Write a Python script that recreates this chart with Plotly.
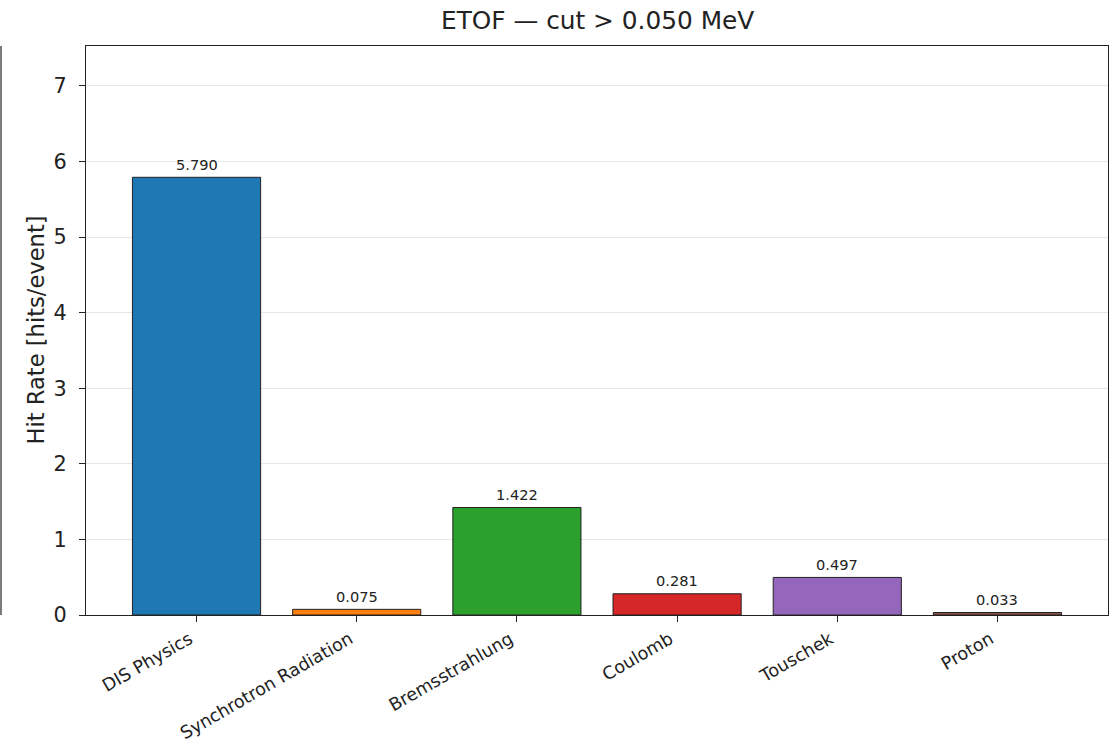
import plotly.graph_objects as go

categories = ["DIS Physics", "Synchrotron Radiation", "Bremsstrahlung", "Coulomb", "Touschek", "Proton"]
values = [5.790, 0.075, 1.422, 0.281, 0.497, 0.033]
colors = ["#1f77b4", "#ff7f0e", "#2ca02c", "#d62728", "#9467bd", "#8c564b"]
y_ticks = [0, 1, 2, 3, 4, 5, 6, 7]

FONT = "DejaVu Sans"
W, H = 1112, 743
L, R, T, B = 86, 4, 46, 128
PW = W - L - R
PH = H - T - B

fig = go.Figure()
fig.add_trace(go.Bar(
    x=list(range(len(categories))),
    y=values,
    width=0.8,
    marker=dict(color=colors, line=dict(color="#222222", width=1)),
    showlegend=False,
    hoverinfo="skip",
))

for i, v in enumerate(values):
    fig.add_annotation(x=i, y=v, text=f"{v:.3f}", showarrow=False,
                       yanchor="middle", yshift=13,
                       font=dict(family=FONT, size=14.6, color="#222222"))

# y-axis title
fig.add_annotation(xref="paper", yref="paper", x=(35 - L) / PW, y=0.5,
                   text="Hit Rate [hits/event]", textangle=-90, showarrow=False,
                   xanchor="center", yanchor="middle",
                   font=dict(family=FONT, size=22.6, color="#222222"))
# title
fig.add_annotation(xref="paper", yref="paper", x=0.5, y=1 + (T - 21) / PH,
                   text="ETOF — cut > 0.050 MeV", showarrow=False,
                   xanchor="center", yanchor="middle",
                   font=dict(family=FONT, size=24.8, color="#222222"))

fig.update_layout(
    width=W, height=H,
    margin=dict(l=L, r=R, t=T, b=B, autoexpand=False),
    paper_bgcolor="white", plot_bgcolor="white",
    font=dict(family=FONT, color="#222222"),
    bargap=0.2,
)

fig.update_xaxes(
    range=[-0.69, 5.69], automargin=False,
    tickmode="array", tickvals=list(range(len(categories))), ticktext=categories,
    tickangle=-30, tickfont=dict(family=FONT, size=17.6, color="#222222"),
    ticks="outside", ticklen=6, tickcolor="#222222", tickwidth=1.2,
    ticklabelshift=-7,
    showline=True, linecolor="#222222", linewidth=1.2, mirror=True,
    showgrid=False, zeroline=False,
)
fig.update_yaxes(
    range=[0, 7.527], automargin=False,
    tickmode="array", tickvals=y_ticks,
    tickfont=dict(family=FONT, size=20.8, color="#222222"),
    ticks="outside", ticklen=6, tickcolor="#222222", tickwidth=1.2,
    ticklabelstandoff=8,
    showline=True, linecolor="#222222", linewidth=1.2, mirror=True,
    showgrid=True, gridcolor="rgba(0,0,0,0.09)", gridwidth=1, zeroline=False,
)

# neighbouring panel's right spine visible at the left edge
fig.add_shape(type="line", xref="paper", yref="paper",
              x0=(1 - L) / PW, x1=(1 - L) / PW, y0=0, y1=1,
              line=dict(color="#222222", width=1.2))

fig.write_html("out.html", config={"displayModeBar": False},
               post_script="document.body.style.margin='0';")
